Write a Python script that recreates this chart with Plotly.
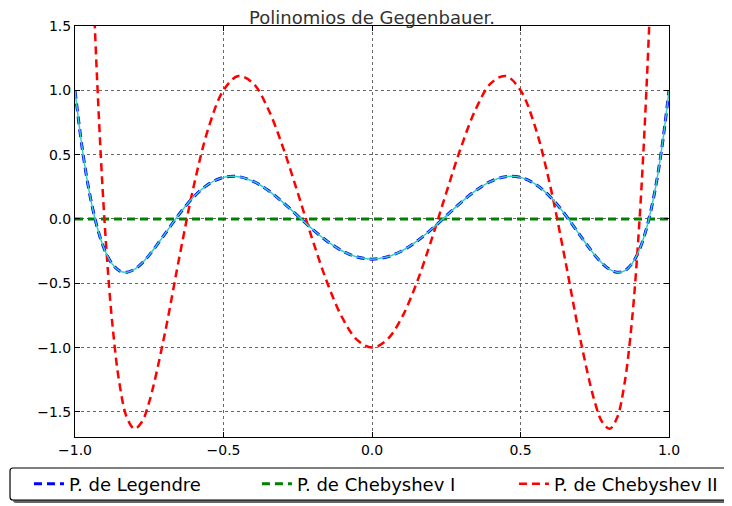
import plotly.graph_objects as go

# muestras de los polinomios de grado 6
x = [-1.0, -0.975, -0.95, -0.925, -0.9, -0.875, -0.85, -0.825, -0.8, -0.775, -0.75,
     -0.7, -0.65, -0.6, -0.55, -0.5, -0.45, -0.4, -0.35, -0.3, -0.25, -0.2, -0.15, -0.1, -0.05,
     0.0, 0.05, 0.1, 0.15, 0.2, 0.25, 0.3, 0.35, 0.4, 0.45, 0.5, 0.55, 0.6, 0.65, 0.7,
     0.75, 0.775, 0.8, 0.825, 0.85, 0.875, 0.9, 0.925, 0.95, 0.975, 1.0]

legendre = [1.0, 0.5374, 0.1874, -0.0669, -0.2412, -0.3490, -0.4030, -0.4140, -0.3918, -0.3449, -0.2808,
            -0.1253, 0.0347, 0.1721, 0.2708, 0.3232, 0.3290, 0.2926, 0.2225, 0.1292, 0.0243, -0.0806, -0.1747, -0.2488, -0.2962,
            -0.3125, -0.2962, -0.2488, -0.1747, -0.0806, 0.0243, 0.1292, 0.2225, 0.2926, 0.3290, 0.3232, 0.2708, 0.1721, 0.0347, -0.1253,
            -0.2808, -0.3449, -0.3918, -0.4140, -0.4030, -0.3490, -0.2412, -0.0669, 0.1874, 0.5374, 1.0]

chebyshev1 = [0.0] * len(x)

chebyshev2 = [7.0, 4.500, 2.5454, 1.057, -0.0358, -0.797, -1.2829, -1.546, -1.6308, -1.578, -1.4219,
              -0.9185, -0.3137, 0.2580, 0.7111, 1.0, 1.1109, 1.0541, 0.8571, 0.5587, 0.2031, -0.1639, -0.4998, -0.7679, -0.9405,
              -1.0, -0.9405, -0.7679, -0.4998, -0.1639, 0.2031, 0.5587, 0.8571, 1.0541, 1.1109, 1.0, 0.7111, 0.2580, -0.3137, -0.9185,
              -1.4219, -1.578, -1.6308, -1.546, -1.2829, -0.797, -0.0358, 1.057, 2.5454, 4.500, 7.0]

fig = go.Figure()
fig.add_trace(go.Scatter(x=x, y=legendre, mode='lines', name='P. de Legendre', legend='legend',
                         line=dict(color='#0000ff', width=3, dash='8px,5px', shape='spline')))
fig.add_trace(go.Scatter(x=x, y=chebyshev1, mode='lines', name='P. de Chebyshev I', legend='legend2',
                         line=dict(color='#008000', width=3, dash='8px,5px')))
fig.add_trace(go.Scatter(x=x, y=chebyshev2, mode='lines', name='P. de Chebyshev II', legend='legend3',
                         line=dict(color='#ff0000', width=2.5, dash='8px,5px', shape='spline')))
fig.add_trace(go.Scatter(x=x, y=legendre, mode='lines', showlegend=False,
                         line=dict(color='#33cccc', width=1.5, shape='spline')))

axis_style = dict(showline=True, linecolor='black', linewidth=1, mirror='ticks',
                  ticks='inside', ticklen=5, tickcolor='black',
                  showgrid=True, gridcolor='#666666', griddash='dot', gridwidth=1,
                  zeroline=False, tickfont=dict(size=14, color='black'),
                  tickformat='.1f', dtick=0.5)

fig.update_xaxes(range=[-1, 1], tick0=-1, **axis_style)
fig.update_yaxes(range=[-1.695, 1.5], tick0=-1.5, **axis_style)


def rounded_box(x0, x1, y0, y1, rx=0.005, ry=0.0073):
    return (f"M {x0 + rx},{y1} L {x1},{y1} L {x1},{y0} L {x0 + rx},{y0} "
            f"Q {x0},{y0} {x0},{y0 + ry} L {x0},{y1 - ry} Q {x0},{y1} {x0 + rx},{y1} Z")


# caja de la leyenda con sombra (paper: ancho 594 px, alto 411 px)
fig.add_shape(type='path', xref='paper', yref='paper',
              path=rounded_box(-0.1044, 1.125, -0.1606, -0.0803),
              fillcolor='#666666', line=dict(width=0), layer='above')
fig.add_shape(type='path', xref='paper', yref='paper',
              path=rounded_box(-0.1094, 1.12, -0.1533, -0.0754),
              fillcolor='white', line=dict(color='black', width=1.2), layer='above')

leg = dict(orientation='h', xanchor='left', y=-0.1144, yanchor='middle',
           bgcolor='rgba(0,0,0,0)', borderwidth=0, font=dict(size=18))

# la pagina deja 8 px de margen en el body: la figura es 8 px menor
fig.update_layout(
    width=724, height=498,
    margin=dict(l=67, r=63, t=18, b=69, autoexpand=False),
    paper_bgcolor='white', plot_bgcolor='white',
    font=dict(family='DejaVu Sans', color='black'),
    title=dict(text='Polinomios de Gegenbauer.', x=0.5, xref='paper',
               y=1, yref='paper', yanchor='bottom', pad=dict(b=2),
               font=dict(size=18, color='#333333')),
    legend=dict(x=-0.0775, **leg),
    legend2=dict(x=0.3063, **leg),
    legend3=dict(x=0.739, **leg),
)

fig.write_html("out.html")
